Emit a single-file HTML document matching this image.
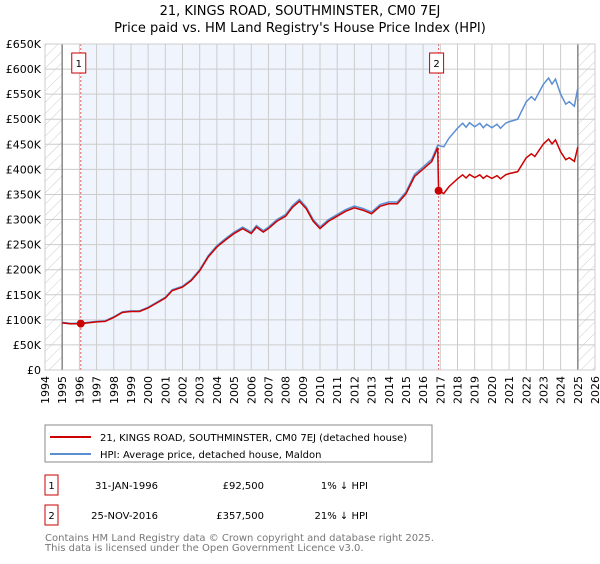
<!DOCTYPE html>
<html><head><meta charset="utf-8"><style>
body{margin:0;background:#fff;font-family:"DejaVu Sans","Liberation Sans",sans-serif;}
svg text{font-family:"DejaVu Sans","Liberation Sans",sans-serif;}
</style></head><body>
<svg id="chart" width="600" height="560" xmlns="http://www.w3.org/2000/svg">
<defs><pattern id="hatch" width="8" height="8" patternUnits="userSpaceOnUse" patternTransform="rotate(45)"><line x1="0" y1="0" x2="0" y2="8" stroke="#ccc" stroke-width="1"/></pattern></defs>
<text x="300" y="15" text-anchor="middle" font-size="13">21, KINGS ROAD, SOUTHMINSTER, CM0 7EJ</text>
<text x="300" y="32" text-anchor="middle" font-size="13">Price paid vs. HM Land Registry's House Price Index (HPI)</text>
<g id="grid"></g><g id="series"></g><g id="axes"></g>
<g>
<rect x="45" y="425" width="387" height="37" fill="#fff" stroke="#888"/>
<line x1="50" y1="437" x2="91" y2="437" stroke="#cc0000" stroke-width="2"/>
<text x="100" y="441" font-size="10">21, KINGS ROAD, SOUTHMINSTER, CM0 7EJ (detached house)</text>
<line x1="50" y1="454" x2="91" y2="454" stroke="#5b8fd1" stroke-width="2"/>
<text x="100" y="458" font-size="10">HPI: Average price, detached house, Maldon</text>
</g>
<g font-size="10">
<rect x="45" y="475" width="13" height="20" fill="#fff" stroke="#cc0000"/><text x="51.5" y="489" text-anchor="middle">1</text>
<text x="158" y="489" text-anchor="end">31-JAN-1996</text><text x="264" y="489" text-anchor="end">£92,500</text><text x="368" y="489" text-anchor="end">1% ↓ HPI</text>
<rect x="45" y="505" width="13" height="20" fill="#fff" stroke="#cc0000"/><text x="51.5" y="519" text-anchor="middle">2</text>
<text x="158" y="519" text-anchor="end">25-NOV-2016</text><text x="264" y="519" text-anchor="end">£357,500</text><text x="368" y="519" text-anchor="end">21% ↓ HPI</text>
</g>
<text x="45" y="541" font-size="10" fill="#777">Contains HM Land Registry data © Crown copyright and database right 2025.</text>
<text x="45" y="551" font-size="10" fill="#777">This data is licensed under the Open Government Licence v3.0.</text>
</svg>
<script>
const hpiYears=[1995.0,1995.5,1996.1,1996.5,1997,1997.5,1998,1998.5,1999,1999.5,2000,2000.5,2001,2001.4,2002,2002.5,2003,2003.5,2004,2004.5,2005,2005.5,2006,2006.3,2006.7,2007,2007.5,2008,2008.4,2008.8,2009.2,2009.6,2010,2010.5,2011,2011.5,2012,2012.5,2013,2013.5,2014,2014.5,2015,2015.5,2016,2016.5,2016.85,2017.2,2017.5,2018,2018.3,2018.5,2018.7,2019,2019.3,2019.5,2019.7,2020,2020.3,2020.5,2020.8,2021,2021.5,2022,2022.3,2022.5,2023,2023.3,2023.5,2023.7,2024,2024.3,2024.5,2024.8,2025.0];
const hpiValues=[95,93,93.5,95,97,98,106,116,118,118,125,135,145,160,167,180,200,228,248,262,275,285,275,288,278,285,300,310,328,340,325,300,285,300,310,320,327,322,315,330,335,335,355,390,405,420,448,445,462,482,492,484,493,485,492,483,490,483,490,482,492,495,500,535,545,538,570,582,570,580,550,530,535,526,562];
const saleYears=[1996.08,2016.9];
const salePrices=[92.5,357.5];
const saleLabels=["1","2"];
const yTicks=[0,50,100,150,200,250,300,350,400,450,500,550,600,650];
const xTicks=[1994,1995,1996,1997,1998,1999,2000,2001,2002,2003,2004,2005,2006,2007,2008,2009,2010,2011,2012,2013,2014,2015,2016,2017,2018,2019,2020,2021,2022,2023,2024,2025,2026];
const NS="http://www.w3.org/2000/svg";
const X0=45,X1=595,Y0=370,Y1=44;
const xs=y=>X0+(y-1994)/(2026-1994)*(X1-X0);
const ys=v=>Y0-(v/650)*(Y0-Y1);
function mk(p,t,a){const e=document.createElementNS(NS,t);for(const k in a)e.setAttribute(k,a[k]);p.appendChild(e);return e;}
const grid=document.getElementById('grid'),ser=document.getElementById('series'),ax=document.getElementById('axes');
const bg=mk(grid,'rect',{x:X0,y:Y1,width:X1-X0,height:Y0-Y1,fill:'#fff'});


const band=mk(grid,'rect',{x:xs(saleYears[0]),y:Y1,width:xs(saleYears[1])-xs(saleYears[0]),height:Y0-Y1,fill:'#f0f4fc'});


const h1=mk(grid,'rect',{x:X0,y:Y1,width:xs(1995)-X0,height:Y0-Y1,fill:'url(#hatch)'});


const h2=mk(grid,'rect',{x:xs(2025),y:Y1,width:X1-xs(2025),height:Y0-Y1,fill:'url(#hatch)'});


yTicks.forEach(v=>{const l=mk(grid,'line',{x1:X0,x2:X1,y1:ys(v),y2:ys(v),stroke:'#ccc'});


const t=mk(ax,'text',{x:X0-4,y:ys(v)+4,'text-anchor':'end','font-size':'11'});t.textContent=v===0?'£0':'£'+v+'K';

});
xTicks.forEach(y=>{const l=mk(grid,'line',{x1:xs(y),x2:xs(y),y1:Y1,y2:Y0,stroke:'#ccc'});


const t=mk(ax,'text',{x:0,y:0,'text-anchor':'end','font-size':'11',transform:`translate(${xs(y)+4},${Y0+6}) rotate(-90)`});t.textContent=y;

});
[1995,2025].forEach(y=>{const l=mk(grid,'line',{x1:xs(y),x2:xs(y),y1:Y1,y2:Y0,stroke:'#888','stroke-width':1.5});

});
saleYears.forEach((y,i)=>{const l=mk(grid,'line',{x1:xs(y),x2:xs(y),y1:Y1,y2:Y0,stroke:'#e06060','stroke-dasharray':'2,2'});

});
const r0=salePrices[0]/93.5, r1=salePrices[1]/452;
const hp=hpiYears.map((y,i)=>xs(y)+','+ys(hpiValues[i])).join(' ');
const hl=mk(ser,'polyline',{points:hp,fill:'none',stroke:'#5b8fd1','stroke-width':1.5});


const rp=[];
hpiYears.forEach((y,i)=>{if(y<saleYears[1])rp.push(xs(y)+','+ys(hpiValues[i]*r0));});
rp.push(xs(saleYears[1])+','+ys(salePrices[1]));
hpiYears.forEach((y,i)=>{if(y>saleYears[1])rp.push(xs(y)+','+ys(hpiValues[i]*r1));});
const pl=mk(ser,'polyline',{points:rp.join(' '),fill:'none',stroke:'#cc0000','stroke-width':1.5});


saleYears.forEach((y,i)=>{const c=mk(ser,'circle',{cx:xs(y),cy:ys(salePrices[i]),r:4,fill:'#cc0000'});


const g=mk(ser,'g',{});


mk(g,'rect',{x:xs(y)-9,y:53,width:14,height:20,fill:'#fff',stroke:'#cc0000'});
const t=mk(g,'text',{x:xs(y)-2,y:67,'text-anchor':'middle','font-size':'10'});t.textContent=saleLabels[i];});
const fr=mk(ax,'rect',{x:X0,y:Y1,width:X1-X0,height:Y0-Y1,fill:'none',stroke:'#ccc'});


</script>
</body></html>
